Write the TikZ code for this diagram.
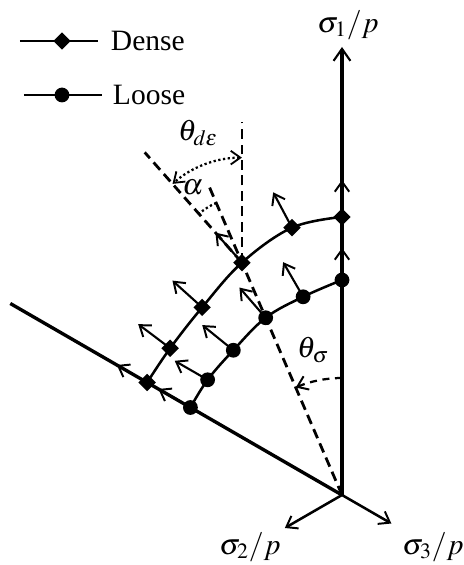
\documentclass[tikz,border=0pt]{standalone}
\usepackage{mathptmx}
\usepackage{fontspec}
\setmainfont{Liberation Serif}
\usepackage{tikz}
\usetikzlibrary{arrows.meta, shapes.geometric, calc}

\begin{document}
\begin{tikzpicture}[
    x=0.025cm, y=0.025cm,
    font=\fontsize{21}{25}\selectfont,
    axis/.style={line width=2.4pt},
    bigtip/.style={-{Straight Barb[length=3mm, width=4.2mm, line width=1.5pt]}},
    tip/.style={-{Straight Barb[length=2.5mm, width=3.6mm, line width=1.4pt]}},
    bothtips/.style={{Straight Barb[length=2.4mm, width=3.4mm, line width=1.3pt]}-{Straight Barb[length=2.4mm, width=3.4mm, line width=1.3pt]}},
    normal/.style={tip, line width=1.5pt},
    curve/.style={line width=1.8pt},
    dashline/.style={line width=2pt, dash pattern=on 7pt off 4pt},
    dotarc/.style={line width=1.6pt, dash pattern=on 1.6pt off 1.8pt},
    dmark/.style={diamond, fill=black, inner sep=0pt, minimum size=0.44cm},
    lmark/.style={circle, fill=black, inner sep=0pt, minimum size=0.37cm},
    legline/.style={line width=1.6pt}
]
\useasboundingbox (-342,-70) rectangle (122,495);

% Origin and axes
\coordinate (O) at (0,0);
\coordinate (s1) at (90:448);
\coordinate (s2) at (210:66);
\coordinate (s3) at (330:57);
\coordinate (neg3) at (150:383);
\draw[axis, bigtip] (O) -- (s1);
\draw[axis] (neg3) -- (O);
\draw[line width=1.8pt, tip] (O) -- (s3);
\draw[line width=1.8pt, tip] (O) -- (s2);

% Stress path points: dense (d) and loose (l)
\coordinate (d0) at (90:278);
\coordinate (d1) at (100.6:272);
\coordinate (d2) at (113.3:253);
\coordinate (d3) at (126.7:234);
\coordinate (d4) at (139.5:226);
\coordinate (d5) at (150:225);
\coordinate (l0) at (90:215);
\coordinate (l1) at (101.1:202);
\coordinate (l2) at (113.3:193);
\coordinate (l3) at (126.9:181);
\coordinate (l4) at (139.4:177);
\coordinate (l5) at (150:175);

% Dashed construction lines
\coordinate (ts) at (113.3:335);
\coordinate (vt) at ($(d2)+(0,141)$);
\coordinate (de) at ($(d2)+(131.4:147)$);
\draw[dashline] (O) -- (ts);
\draw[dashline] (d2) -- (vt);
\draw[dashline] (d2) -- (de);

% Angles
\draw[line width=1.6pt, dash pattern=on 5pt off 4pt, tip] ($(O)+(90:117)$) arc[start angle=90, end angle=113.3, radius=117];
\draw[dotarc, bothtips] ($(d2)+(90:105)$) arc[start angle=90, end angle=131.4, radius=105];
\draw[dotarc] ($(d2)+(113.3:65)$) arc[start angle=113.3, end angle=131.4, radius=65];

% Yield curves
\draw[curve] plot[smooth, tension=0.6] coordinates {(d0) (d1) (d2) (d3) (d4) (d5)};
\draw[curve] plot[smooth, tension=0.6] coordinates {(l0) (l1) (l2) (l3) (l4) (l5)};

% Plastic strain increment directions
\draw[normal] (d0) -- ++(90:37);
\draw[normal] (d1) -- ++(118:40);
\draw[normal] (d2) -- ++(131.4:40);
\draw[normal] (d3) -- ++(138:40);
\draw[normal] (d4) -- ++(143:40);
\draw[normal] (d5) -- ++(150:35);
\draw[normal] (l0) -- ++(90:32);
\draw[normal] (l1) -- ++(120:40);
\draw[normal] (l2) -- ++(131:40);
\draw[normal] (l3) -- ++(141:40);
\draw[normal] (l4) -- ++(150:38);
\draw[normal] (l5) -- ++(150:37);

% Markers
\node[dmark] (dm0) at (d0) {};
\node[dmark] (dm1) at (d1) {};
\node[dmark] (dm2) at (d2) {};
\node[dmark] (dm3) at (d3) {};
\node[dmark] (dm4) at (d4) {};
\node[dmark] (dm5) at (d5) {};
\node[lmark] (lm0) at (l0) {};
\node[lmark] (lm1) at (l1) {};
\node[lmark] (lm2) at (l2) {};
\node[lmark] (lm3) at (l3) {};
\node[lmark] (lm4) at (l4) {};
\node[lmark] (lm5) at (l5) {};

% Labels
\node (lab1) at (6,470) {$\sigma_1/p$};
\node (lab2) at (-92,-52) {$\sigma_2/p$};
\node (lab3) at (91,-52) {$\sigma_3/p$};
\node (tde) at (-144,362) {$\theta_{d\varepsilon}$};
\node (alp) at (-149,308) {$\alpha$};
\node (tsg) at (-29,145) {$\theta_\sigma$};

% Legend
\coordinate (k1a) at (-322,454);
\coordinate (k1b) at (-244,454);
\coordinate (k2a) at (-318,400);
\coordinate (k2b) at (-240,400);
\draw[legline] (k1a) -- (k1b);
\draw[legline] (k2a) -- (k2b);
\node[dmark] (k1) at (-280,454) {};
\node[lmark] (k2) at (-280,400) {};
\node[anchor=west] (k1t) at (-236,454) {Dense};
\node[anchor=west] (k2t) at (-234,400) {Loose};

\end{tikzpicture}
\end{document}
